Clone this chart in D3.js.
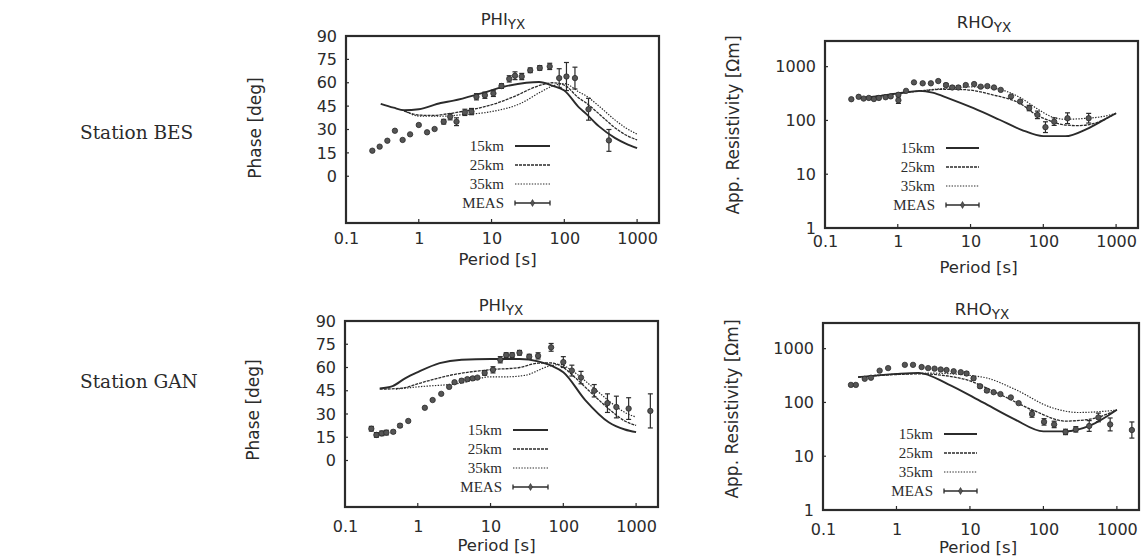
<!DOCTYPE html>
<html><head><meta charset="utf-8">
<script src="https://cdn.jsdelivr.net/npm/d3@7"></script>
<style>
body{margin:0;background:#fff;}
svg{display:block;}
</style></head>
<body>
<svg id="chart" width="1141" height="560"></svg>
<script>
// ---------- data ----------
const periodTicks = [0.1, 1, 10, 100, 1000];
const periodTickLabels = ["0.1", "1", "10", "100", "1000"];
const phiTicks = [0, 15, 30, 45, 60, 75, 90];
const rhoTicks = [1, 10, 100, 1000];
const legendLabels = ["15km", "25km", "35km", "MEAS"];
const stationNames = ["Station BES", "Station GAN"];

// model curves [period, value]
const besPhi15 = [[0.3,46.5],[0.45,44],[0.63,42.4],[1,43],[2,47],[3,48.5],[7,53],[15,57.5],[30,60],[45,60.5],[70,58],[100,55],[160,44],[200,40],[300,32],[500,24.5],[700,21],[1000,18]];
const besPhi25 = [[0.63,42],[0.8,40.2],[1.06,39.2],[1.5,39],[2.7,40.3],[5,42.5],[7.8,44.5],[12,47],[20,51],[47,58.4],[70,60],[100,58.5],[160,50],[200,47],[300,40],[500,31],[700,26.5],[1000,23.3]];
const besPhi35 = [[0.63,42],[1.06,38.5],[2,38.5],[4,39.5],[9.7,41.4],[25,46.7],[47,54],[70,58],[100,59.5],[160,54],[200,51.5],[300,45],[500,36],[700,31],[1000,27]];
const besRho15 = [[0.3,258],[0.5,280],[1,318],[2,355],[3,330],[5,258],[11,169],[25,103],[50,67],[100,51],[200,51],[400,70],[700,105],[1000,136]];
const besRho25 = [[0.3,258],[0.5,280],[1,318],[2,350],[4,380],[8,375],[20,300],[50,200],[80,127],[120,100],[190,83],[300,80],[500,88],[1000,136]];
const besRho35 = [[0.3,258],[0.5,280],[1,318],[2,355],[5,400],[10,420],[20,400],[50,258],[80,169],[130,117],[200,105],[400,110],[700,120],[1000,136]];
const ganPhi15 = [[0.3,46.5],[0.45,48],[0.67,53],[1,57],[2,62.8],[4,65],[10,65.5],[25,65.5],[45,64],[70,61],[100,57],[200,39],[420,24.7],[700,20],[1000,18.3]];
const ganPhi25 = [[0.3,46],[0.6,46.7],[1.2,50.6],[2.8,55],[10,58.6],[25,60],[45,62.8],[65,63],[100,60],[134,55],[250,43],[477,31.2],[700,25.5],[1000,22.6]];
const ganPhi35 = [[0.5,46],[1,47.5],[4,50],[10,54],[17,54],[30,55],[65,61],[90,62],[131,58],[250,47.5],[477,36.5],[700,31],[1000,28]];
const ganRho15 = [[0.3,295],[1,340],[2,355],[5,220],[15,100],[40,49],[100,29],[200,29],[430,37],[1000,73]];
const ganRho25 = [[0.3,295],[1,330],[2,340],[8,275],[25,143],[75,70],[200,45],[400,48],[1000,72]];
const ganRho35 = [[0.5,320],[1,335],[3,350],[15,295],[40,178],[130,80],[300,65],[450,66],[1000,72]];

// measured [period, value, error]  (phase: +- deg, rho: +- decades)
const besPhiMeas = [[0.23,16.4,0],[0.29,19,0],[0.37,22.8,0],[0.47,29.2,0],[0.6,23.3,0],[0.76,26.9,0],[1.0,32.9,0],[1.3,28.2,0],[1.65,30.3,0],[2.2,35,1.5],[2.7,38.2,2],[3.3,35,2.5],[4.3,41,2],[5.3,41.5,2],[6.2,51,2],[8.1,52,2],[10.6,53.2,2],[13.7,57.9,1.5],[17.5,62.5,2],[21,64.5,2.5],[26,64,2],[34,68,1.5],[46,69.5,1.5],[63,70.5,2],[85,63,6],[107,64,9],[140,63,7],[215,43,7],[410,23,7]];
const besRhoMeas = [[0.23,248,0],[0.29,275,0],[0.34,255,0],[0.4,262,0],[0.47,250,0],[0.55,262,0],[0.68,270,0],[0.8,280,0],[1.02,238,0.06],[1.02,300,0],[1.3,355,0],[1.67,510,0],[2.2,490,0],[2.85,490,0],[3.6,540,0],[4.6,455,0.03],[5.6,410,0.03],[6.8,410,0.03],[8.6,455,0],[11.2,475,0],[13.8,425,0],[17,435,0],[21,410,0],[26,370,0],[36,280,0],[48,225,0],[64,170,0.05],[83,127,0.07],[107,75,0.1],[141,95,0.07],[215,110,0.1],[420,110,0.09]];
const ganPhiMeas = [[0.23,20.5,1.5],[0.27,16.5,1.5],[0.32,17.5,1.5],[0.37,18,1.5],[0.46,18.5,1],[0.57,22.5,1],[0.74,25.5,0],[1.25,34,0],[1.6,39,0],[2.1,43,0],[2.7,47.5,0],[3.2,50.5,0],[4,51.5,1],[4.8,52.5,1],[5.7,53,1],[6.6,53.5,0],[8.3,56.5,1.5],[10.8,58.5,2],[13.6,65,2],[16.4,68,1.5],[19.8,68,1.5],[25,69.5,1.5],[34,67,1.5],[45,67.5,2],[68,73,2.5],[100,63.5,3.5],[131,58,3.5],[175,53.5,4],[266,45,4],[404,37,6],[536,34.5,7],[790,33.5,7],[1570,32,11]];
const ganRhoMeas = [[0.24,212,0],[0.28,212,0],[0.37,275,0],[0.45,288,0],[0.59,390,0],[0.77,435,0],[1.3,500,0],[1.68,500,0],[2.2,455,0],[2.7,435,0],[3.3,425,0],[4,410,0],[4.8,400,0],[6,380,0],[7.5,365,0],[9,345,0.03],[11.2,282,0.03],[13.7,200,0.03],[17,166,0.03],[21,155,0],[26,143,0],[36,124,0],[46,97,0],[70,61,0.06],[102,43.5,0.06],[140,39,0.06],[200,28.3,0.05],[276,31.6,0.05],[420,36.5,0.1],[560,52.6,0.08],[810,39,0.12],[1600,30.7,0.15]];

// ---------- drawing ----------
const svg = d3.select("#chart");
const INK = "#2b2b2b";
const SANS = "DejaVu Sans, sans-serif";
const SERIF = "Liberation Serif, Times New Roman, serif";

const panels = [
  {kind:"phi", title:"PHI", box:[346,659,36,223], titleXY:[503,25], ylabXY:[255,128], xlabY:265, tickY:244,
   curves:[besPhi15,besPhi25,besPhi35], meas:besPhiMeas, legend:[504,515,550,146]},
  {kind:"rho", title:"RHO", box:[825,1138,41,228], titleXY:[984,28], ylabXY:[733,125], xlabY:273, tickY:247,
   curves:[besRho15,besRho25,besRho35], meas:besRhoMeas, legend:[935,946,979,148]},
  {kind:"phi", title:"PHI", box:[345,658,321,507], titleXY:[501,311], ylabXY:[253,410], xlabY:551, tickY:532,
   curves:[ganPhi15,ganPhi25,ganPhi35], meas:ganPhiMeas, legend:[502,513,548,430]},
  {kind:"rho", title:"RHO", box:[823,1139,323,510], titleXY:[982,315], ylabXY:[732,409], xlabY:553, tickY:535,
   curves:[ganRho15,ganRho25,ganRho35], meas:ganRhoMeas, legend:[933,944,977,434]}
];

const styles = [
  {w:1.9, dash:null},
  {w:1.3, dash:"3,1"},
  {w:1.2, dash:"1.4,1.4"}
];

panels.forEach(p => {
  const [L,R,T,B] = p.box;
  const g = svg.append("g");
  const x = d3.scaleLog().domain([0.1, 2000]).range([L, R]);
  const y = p.kind === "phi"
    ? d3.scaleLinear().domain([-30, 90]).range([B, T])
    : d3.scaleLog().domain([1, 3000]).range([B, T]);
  const yTicks = p.kind === "phi" ? phiTicks : rhoTicks;

  // x axis (ticks inward, labels below)
  const xAxis = d3.axisBottom(x).tickValues(periodTicks).tickSize(0).tickPadding(0)
    .tickFormat((d,i) => periodTickLabels[i]);
  const gx = g.append("g").attr("transform", `translate(0,${p.tickY})`).call(xAxis);
  gx.select(".domain").remove();
  gx.selectAll("text").attr("font-family", SANS).attr("font-size", 16).attr("fill", INK).attr("dy", 0);
  periodTicks.forEach(t => g.append("line").attr("x1", x(t)).attr("x2", x(t)).attr("y1", B).attr("y2", B-4)
    .attr("stroke", INK).attr("stroke-width", 1.2));

  // y axis
  const yAxis = d3.axisLeft(y).tickValues(yTicks).tickSize(0).tickPadding(0)
    .tickFormat(d => String(d));
  const gy = g.append("g").attr("transform", `translate(${L-9},0)`).call(yAxis);
  gy.select(".domain").remove();
  gy.selectAll("text").attr("font-family", SANS).attr("font-size", 16).attr("fill", INK);
  yTicks.forEach(t => g.append("line").attr("x1", L).attr("x2", L+3).attr("y1", y(t)).attr("y2", y(t))
    .attr("stroke", INK).attr("stroke-width", 1.2));

  // frame
  g.append("rect").attr("x", L).attr("y", T).attr("width", R-L).attr("height", B-T)
    .attr("fill", "none").attr("stroke", INK).attr("stroke-width", 2.2);

  // title with subscript
  const tt = g.append("text").attr("x", p.titleXY[0]).attr("y", p.titleXY[1]).attr("text-anchor", "middle")
    .attr("font-family", SANS).attr("font-size", 16.5).attr("fill", INK);
  tt.append("tspan").text(p.title);
  tt.append("tspan").attr("dy", 4).attr("font-size", 13.5).text("YX");

  // axis labels
  g.append("text").attr("x", (L+R)/2 - (p.kind==="phi"?5:3)).attr("y", p.xlabY).attr("text-anchor", "middle")
    .attr("font-family", SANS).attr("font-size", 16.5).attr("fill", INK).text("Period [s]");
  g.append("text").attr("transform", `translate(${p.ylabXY[0]},${p.ylabXY[1]}) rotate(-90)`)
    .attr("text-anchor", "middle").attr("dy", "0.35em")
    .attr("font-family", SANS).attr("font-size", 17).attr("fill", INK)
    .text(p.kind === "phi" ? "Phase [deg]" : "App. Resistivity [\u03A9m]");

  // model curves
  const line = d3.line().x(d => x(d[0])).y(d => y(d[1])).curve(d3.curveMonotoneX);
  p.curves.forEach((c, i) => {
    g.append("path").attr("d", line(c)).attr("fill", "none").attr("stroke", INK)
      .attr("stroke-width", styles[i].w).attr("stroke-dasharray", styles[i].dash);
  });

  // measured points with error bars
  const lo = d => p.kind === "phi" ? d[1] - d[2] : d[1] / Math.pow(10, d[2]);
  const hi = d => p.kind === "phi" ? d[1] + d[2] : d[1] * Math.pow(10, d[2]);
  const mg = g.append("g");
  p.meas.filter(d => d[2] > 0).forEach(d => {
    const xx = x(d[0]);
    mg.append("line").attr("x1", xx).attr("x2", xx).attr("y1", y(lo(d))).attr("y2", y(hi(d)))
      .attr("stroke", INK).attr("stroke-width", 1.2);
    [lo(d), hi(d)].forEach(v => mg.append("line").attr("x1", xx-2.5).attr("x2", xx+2.5)
      .attr("y1", y(v)).attr("y2", y(v)).attr("stroke", INK).attr("stroke-width", 1.2));
  });
  mg.selectAll("circle").data(p.meas).join("circle")
    .attr("cx", d => x(d[0])).attr("cy", d => y(d[1])).attr("r", 2.7)
    .attr("fill", "#555").attr("stroke", "#2b2b2b").attr("stroke-width", 0.8);

  // legend
  const [tx, lx1, lx2, ly0] = p.legend;
  legendLabels.forEach((lab, i) => {
    const yy = ly0 + i * 19;
    g.append("text").attr("x", tx).attr("y", yy).attr("dy", "0.33em").attr("text-anchor", "end")
      .attr("font-family", SERIF).attr("font-size", 15).attr("fill", INK).text(lab);
    if (i < 3) {
      g.append("line").attr("x1", lx1).attr("x2", lx2).attr("y1", yy).attr("y2", yy)
        .attr("stroke", INK).attr("stroke-width", styles[i].w).attr("stroke-dasharray", styles[i].dash);
    } else {
      g.append("line").attr("x1", lx1).attr("x2", lx2).attr("y1", yy).attr("y2", yy)
        .attr("stroke", INK).attr("stroke-width", 1.5);
      [lx1, lx2].forEach(xx => g.append("line").attr("x1", xx).attr("x2", xx).attr("y1", yy-2.5).attr("y2", yy+2.5)
        .attr("stroke", INK).attr("stroke-width", 1.3));
      g.append("path").attr("d", d3.symbol(d3.symbolDiamond, 14)())
        .attr("transform", `translate(${(lx1+lx2)/2},${yy})`).attr("fill", "#555").attr("stroke", INK).attr("stroke-width", 0.6);
    }
  });
});

// station labels
const stY = [139, 388];
stationNames.forEach((s, i) => {
  svg.append("text").attr("x", 80).attr("y", stY[i]).attr("font-family", "DejaVu Serif, serif")
    .attr("font-size", 18.5).attr("fill", INK).text(s);
});
</script>
</body></html>
